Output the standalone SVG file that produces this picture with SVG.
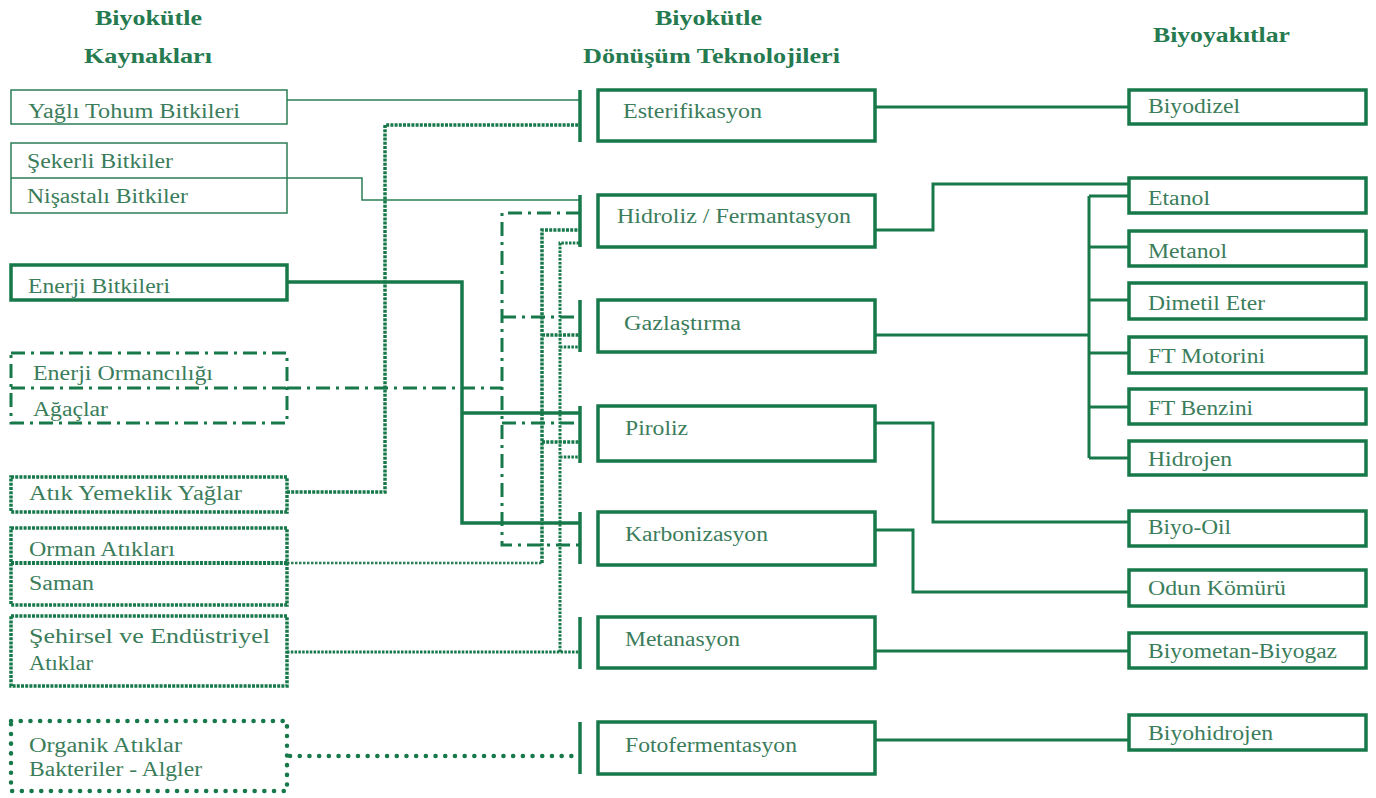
<svg xmlns="http://www.w3.org/2000/svg" width="1376" height="798" viewBox="0 0 1376 798">
<style>
.t{font-family:"Liberation Serif","Times New Roman",serif;font-size:20px;fill:#3b7d5b}
.h{font-family:"Liberation Serif","Times New Roman",serif;font-size:20px;font-weight:bold;fill:#267a4f}
.thin{fill:none;stroke:#2a7d55;stroke-width:1.5}
.thick{fill:none;stroke:#17784a;stroke-width:3.5}
.con{fill:none;stroke:#17784a;stroke-width:3}
.dd{fill:none;stroke:#17784a;stroke-width:3;stroke-dasharray:14 6 3 6}
.sq{fill:none;stroke:#17784a;stroke-width:3.5;stroke-dasharray:3 1.2}
.sqf{fill:none;stroke:#17784a;stroke-width:3;stroke-dasharray:2.5 1.3}
.sql{fill:none;stroke:#2a7d55;stroke-width:2.5;stroke-dasharray:2.5 1.5}
.rd{fill:none;stroke:#17784a;stroke-width:4.5;stroke-linecap:round;stroke-dasharray:0.1 9.6}
.bar{stroke:#17784a;stroke-width:3.5}
</style>
<rect width="1376" height="798" fill="#ffffff"/>
<g id="headers">
<text class="h" x="95" y="25" textLength="107" lengthAdjust="spacingAndGlyphs">Biyokütle</text>
<text class="h" x="84" y="63" textLength="128" lengthAdjust="spacingAndGlyphs">Kaynakları</text>
<text class="h" x="655" y="25" textLength="107" lengthAdjust="spacingAndGlyphs">Biyokütle</text>
<text class="h" x="583" y="63" textLength="257" lengthAdjust="spacingAndGlyphs">Dönüşüm Teknolojileri</text>
<text class="h" x="1153" y="42" textLength="137" lengthAdjust="spacingAndGlyphs">Biyoyakıtlar</text>
</g>
<g id="connectors">
<path class="thin" d="M287,100 H580 M287,178 H362 V200 H580"/>
<path class="sq" d="M287,492 H385 V125 H580"/>
<path class="thick" d="M287,282 H462 V523 H580 M462,413 H580"/>
<path class="dd" d="M287,388 H502 M580,213 H502 V545 H580 M502,317 H580 M502,423 H580"/>
<path class="sql" d="M287,563 H542"/>
<path class="sq" d="M542,563 V230 H580 M542,335 H580 M542,442 H580"/>
<path class="sqf" d="M287,652 H580 M560,652 V243 H580 M560,347 H580 M560,457 H580"/>
<path class="rd" d="M290,756 H576"/>
<g class="bar">
<line x1="580" y1="90" x2="580" y2="142"/>
<line x1="580" y1="195" x2="580" y2="247"/>
<line x1="580" y1="300" x2="580" y2="352"/>
<line x1="580" y1="406" x2="580" y2="463"/>
<line x1="580" y1="512" x2="580" y2="564"/>
<line x1="580" y1="617" x2="580" y2="669"/>
<line x1="580" y1="722" x2="580" y2="774"/>
</g>
<path class="con" d="M875,107 H1129 M875,230 H933 V184 H1129 M875,335 H1089 M1089,196 V458 M1089,196 H1129 M1089,247 H1129 M1089,300 H1129 M1089,353 H1129 M1089,407 H1129 M1089,458 H1129 M875,423 H933 V522 H1129 M875,530 H913 V592 H1129 M875,651 H1129 M875,740 H1129"/>
</g>
<g id="src-yagli">
<rect class="thin" x="11" y="90" width="276" height="34"/>
<text class="t" x="28" y="118" textLength="212" lengthAdjust="spacingAndGlyphs">Yağlı Tohum Bitkileri</text>
</g>
<g id="src-seker">
<rect class="thin" x="11" y="143" width="276" height="70"/>
<line class="thin" x1="11" y1="178" x2="287" y2="178"/>
<text class="t" x="27" y="168" textLength="146" lengthAdjust="spacingAndGlyphs">Şekerli Bitkiler</text>
<text class="t" x="27" y="203" textLength="161" lengthAdjust="spacingAndGlyphs">Nişastalı Bitkiler</text>
</g>
<g id="src-enerji">
<rect class="thick" x="11" y="265" width="276" height="35"/>
<text class="t" x="28" y="293" textLength="142" lengthAdjust="spacingAndGlyphs">Enerji Bitkileri</text>
</g>
<g id="src-ormancilik">
<rect class="dd" x="11" y="353" width="276" height="70"/>
<line class="dd" x1="11" y1="388" x2="287" y2="388"/>
<text class="t" x="33" y="380" textLength="180" lengthAdjust="spacingAndGlyphs">Enerji Ormancılığı</text>
<text class="t" x="33" y="416" textLength="75" lengthAdjust="spacingAndGlyphs">Ağaçlar</text>
</g>
<g id="src-atik-yag">
<rect class="sq" x="11" y="477" width="276" height="35"/>
<text class="t" x="29" y="500" textLength="213" lengthAdjust="spacingAndGlyphs">Atık Yemeklik Yağlar</text>
</g>
<g id="src-orman-atik">
<text class="t" x="29" y="556" textLength="146" lengthAdjust="spacingAndGlyphs">Orman Atıkları</text>
<rect class="sq" x="11" y="528" width="276" height="77"/>
<line class="sq" x1="11" y1="563" x2="287" y2="563" style="stroke-width:4"/>
<text class="t" x="29" y="590" textLength="65" lengthAdjust="spacingAndGlyphs">Saman</text>
</g>
<g id="src-sehirsel">
<rect class="sq" x="11" y="616" width="276" height="70"/>
<text class="t" x="29" y="643" textLength="241" lengthAdjust="spacingAndGlyphs">Şehirsel ve Endüstriyel</text>
<text class="t" x="29" y="670" textLength="64" lengthAdjust="spacingAndGlyphs">Atıklar</text>
</g>
<g id="src-organik">
<rect class="rd" x="11" y="721" width="276" height="70"/>
<text class="t" x="29" y="752" textLength="153" lengthAdjust="spacingAndGlyphs">Organik Atıklar</text>
<text class="t" x="29" y="776" textLength="173" lengthAdjust="spacingAndGlyphs">Bakteriler - Algler</text>
</g>
<g id="tech-esterifikasyon">
<rect class="thick" x="598" y="90" width="277" height="51"/>
<text class="t" x="623" y="118" textLength="139" lengthAdjust="spacingAndGlyphs">Esterifikasyon</text>
</g>
<g id="tech-hidroliz">
<rect class="thick" x="598" y="195" width="277" height="52"/>
<text class="t" x="617" y="223" textLength="234" lengthAdjust="spacingAndGlyphs">Hidroliz / Fermantasyon</text>
</g>
<g id="tech-gazlastirma">
<rect class="thick" x="598" y="300" width="277" height="52"/>
<text class="t" x="624" y="330" textLength="117" lengthAdjust="spacingAndGlyphs">Gazlaştırma</text>
</g>
<g id="tech-piroliz">
<rect class="thick" x="598" y="406" width="277" height="55"/>
<text class="t" x="625" y="435" textLength="63" lengthAdjust="spacingAndGlyphs">Piroliz</text>
</g>
<g id="tech-karbonizasyon">
<rect class="thick" x="598" y="512" width="277" height="53"/>
<text class="t" x="625" y="541" textLength="143" lengthAdjust="spacingAndGlyphs">Karbonizasyon</text>
</g>
<g id="tech-metanasyon">
<rect class="thick" x="598" y="617" width="277" height="51"/>
<text class="t" x="625" y="646" textLength="115" lengthAdjust="spacingAndGlyphs">Metanasyon</text>
</g>
<g id="tech-fotofermentasyon">
<rect class="thick" x="598" y="722" width="277" height="52"/>
<text class="t" x="625" y="752" textLength="172" lengthAdjust="spacingAndGlyphs">Fotofermentasyon</text>
</g>
<g id="fuel-biyodizel">
<rect class="thick" x="1129" y="90" width="237" height="34"/>
<text class="t" x="1148" y="113" textLength="92" lengthAdjust="spacingAndGlyphs">Biyodizel</text>
</g>
<g id="fuel-etanol">
<rect class="thick" x="1129" y="178" width="237" height="35"/>
<text class="t" x="1148" y="205" textLength="62" lengthAdjust="spacingAndGlyphs">Etanol</text>
</g>
<g id="fuel-metanol">
<rect class="thick" x="1129" y="231" width="237" height="35"/>
<text class="t" x="1148" y="258" textLength="79" lengthAdjust="spacingAndGlyphs">Metanol</text>
</g>
<g id="fuel-dimetil">
<rect class="thick" x="1129" y="283" width="237" height="36"/>
<text class="t" x="1148" y="310" textLength="117" lengthAdjust="spacingAndGlyphs">Dimetil Eter</text>
</g>
<g id="fuel-ftmotorini">
<rect class="thick" x="1129" y="337" width="237" height="36"/>
<text class="t" x="1148" y="363" textLength="117" lengthAdjust="spacingAndGlyphs">FT Motorini</text>
</g>
<g id="fuel-ftbenzini">
<rect class="thick" x="1129" y="389" width="237" height="35"/>
<text class="t" x="1148" y="415" textLength="105" lengthAdjust="spacingAndGlyphs">FT Benzini</text>
</g>
<g id="fuel-hidrojen">
<rect class="thick" x="1129" y="441" width="237" height="34"/>
<text class="t" x="1148" y="466" textLength="84" lengthAdjust="spacingAndGlyphs">Hidrojen</text>
</g>
<g id="fuel-biyooil">
<rect class="thick" x="1129" y="511" width="237" height="35"/>
<text class="t" x="1148" y="534" textLength="83" lengthAdjust="spacingAndGlyphs">Biyo-Oil</text>
</g>
<g id="fuel-odun">
<rect class="thick" x="1129" y="570" width="237" height="36"/>
<text class="t" x="1148" y="595" textLength="138" lengthAdjust="spacingAndGlyphs">Odun Kömürü</text>
</g>
<g id="fuel-biyometan">
<rect class="thick" x="1129" y="633" width="237" height="35"/>
<text class="t" x="1148" y="658" textLength="189" lengthAdjust="spacingAndGlyphs">Biyometan-Biyogaz</text>
</g>
<g id="fuel-biyohidrojen">
<rect class="thick" x="1129" y="715" width="237" height="35"/>
<text class="t" x="1148" y="740" textLength="125" lengthAdjust="spacingAndGlyphs">Biyohidrojen</text>
</g>
</svg>
